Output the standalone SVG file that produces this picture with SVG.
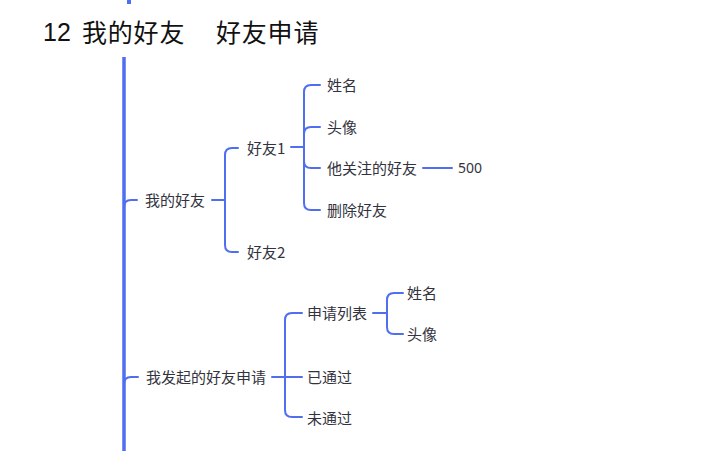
<svg xmlns="http://www.w3.org/2000/svg" width="701" height="457" viewBox="0 0 701 457">
<style>
.t{font-family:"Noto Sans CJK SC","Noto Sans",sans-serif;font-size:15px;fill:#333340}
.n{font-family:"Noto Sans","Liberation Sans",sans-serif;font-size:14px;fill:#333340}
.c{fill:none;stroke:#4f6ef0;stroke-width:2;stroke-linecap:round;stroke-linejoin:round}
.title{font-family:"Noto Sans CJK SC",sans-serif;font-size:25px;fill:#111;letter-spacing:0.8px}
</style>
<rect width="701" height="457" fill="#fff"/>
<g id="title">
<text x="43" y="41" style="font-family:'Liberation Sans',sans-serif;font-size:25px;fill:#111">12</text>
<text x="82" y="42" class="title">我的好友</text>
<text x="216" y="42" class="title">好友申请</text>
</g>
<g id="connectors">
<line x1="129" y1="0" x2="129" y2="4" stroke="#4f6ef0" stroke-width="4"/>
<line x1="124" y1="57" x2="124" y2="451" stroke="#4f6ef0" stroke-width="3.5"/>
<path class="c" d="M124 207 Q124 200 131 200 L137 200"/>
<path class="c" d="M124 384 Q124 377 131 377 L138 377"/>
<path class="c" d="M212 200 L225 200"/>
<path class="c" d="M238 148 L232 148 Q225 148 225 155 L225 245 Q225 252 232 252 L238 252"/>
<path class="c" d="M291 147 L304 147"/>
<path class="c" d="M320 85 L311 85 Q304 85 304 92 L304 203 Q304 210 311 210 L320 210"/>
<path class="c" d="M304 134 Q304 127 311 127 L320 127"/>
<path class="c" d="M304 161 Q304 168 311 168 L320 168"/>
<path class="c" d="M423 168 L452 168"/>
<path class="c" d="M272 377 L302 377"/>
<path class="c" d="M302 313 L292 313 Q285 313 285 320 L285 410 Q285 417 292 417 L302 417"/>
<path class="c" d="M373 313 L387 313"/>
<path class="c" d="M403 293 L394 293 Q387 293 387 300 L387 327 Q387 334 394 334 L403 334"/>
</g>
<g id="n-myfriends"><text class="t" x="145" y="205.5">我的好友</text></g>
<g id="n-friend1"><text class="t" x="247" y="153.5">好友1</text></g>
<g id="n-friend2"><text class="t" x="247" y="257.5">好友2</text></g>
<g id="n-name1"><text class="t" x="327" y="90.5">姓名</text></g>
<g id="n-avatar1"><text class="t" x="327" y="132.5">头像</text></g>
<g id="n-following"><text class="t" x="327" y="173.5">他关注的好友</text></g>
<g id="n-500"><text class="n" x="458" y="173">500</text></g>
<g id="n-delete"><text class="t" x="327" y="215.5">删除好友</text></g>
<g id="n-myrequests"><text class="t" x="146" y="382.5">我发起的好友申请</text></g>
<g id="n-reqlist"><text class="t" x="307" y="318.5">申请列表</text></g>
<g id="n-name2"><text class="t" x="407" y="298.5">姓名</text></g>
<g id="n-avatar2"><text class="t" x="407" y="339.5">头像</text></g>
<g id="n-passed"><text class="t" x="307" y="382.5">已通过</text></g>
<g id="n-notpassed"><text class="t" x="307" y="423.5">未通过</text></g>
</svg>
